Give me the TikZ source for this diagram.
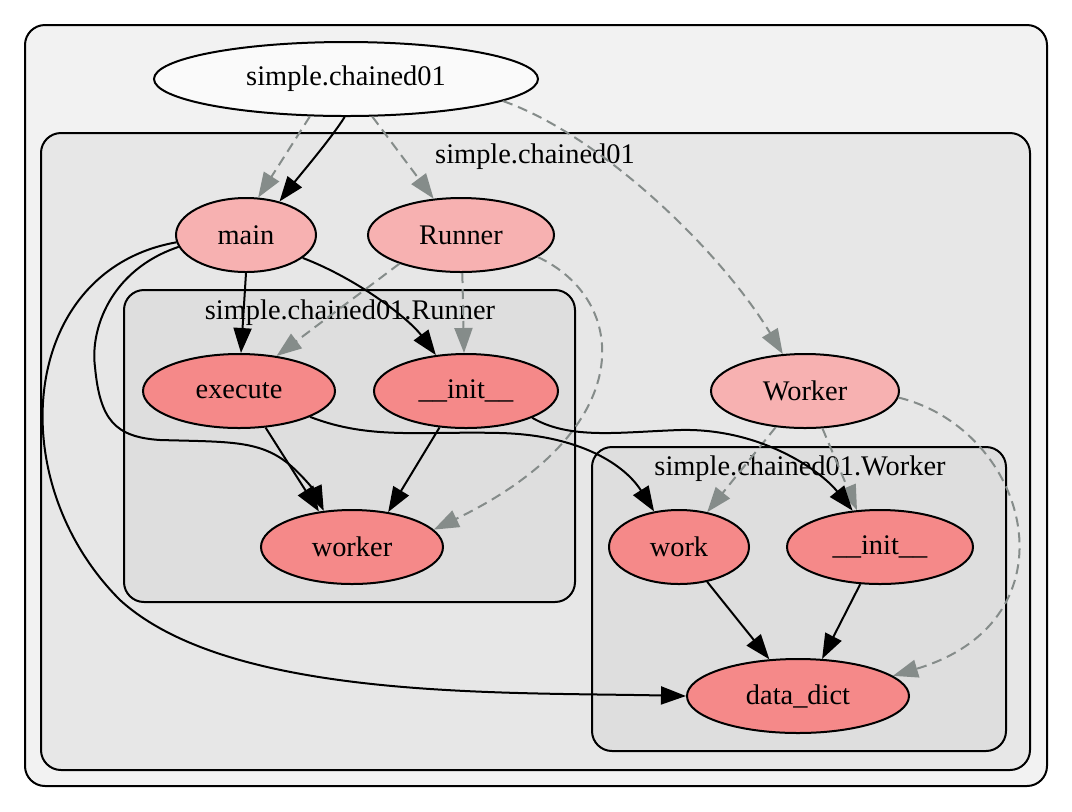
\documentclass[tikz,border=0pt]{standalone}
\usepackage{fontspec}
\setmainfont{Liberation Serif}
\usetikzlibrary{shapes.geometric,arrows.meta}
\definecolor{bgA}{HTML}{F2F2F2}
\definecolor{bgB}{HTML}{E7E7E7}
\definecolor{bgC}{HTML}{DEDEDE}
\definecolor{topfill}{HTML}{FAFAFA}
\definecolor{modfill}{HTML}{F7B1B1}
\definecolor{fnfill}{HTML}{F58989}
\definecolor{refgrey}{HTML}{858C8A}
\tikzset{
  every node/.style={font=\fontsize{14.2}{17}\selectfont},
  cluster/.style={draw=black, line width=1pt, rounded corners=10pt},
  fn/.style={ellipse, draw=black, line width=1pt, inner sep=0pt, minimum height=37pt},
  calls/.style={line width=1pt, draw=black, -{Triangle[length=12.5pt,width=9pt]}},
  defines/.style={line width=1pt, draw=refgrey, dash pattern=on 5pt off 3pt,
    -{Triangle[length=12.5pt,width=9pt,fill=refgrey]}},
  clabel/.style={inner sep=0pt}
}
\begin{document}
\begin{tikzpicture}[x=0.5pt,y=-0.5pt]
\useasboundingbox (0,0) rectangle (1072,811);
% package clusters
\draw[cluster, fill=bgA] (25,25) rectangle (1047,786);
\draw[cluster, fill=bgB] (41,133) rectangle (1030,770);
\draw[cluster, fill=bgC] (124,290) rectangle (575,602);
\draw[cluster, fill=bgC] (592,447) rectangle (1006,751);
\node[clabel] (lmod) at (535,157) {simple.chained01};
\node[clabel] (lrun) at (350,313) {simple.chained01.Runner};
\node[clabel] (lwrk) at (800,469) {simple.chained01.Worker};

% nodes
\node[fn, fill=topfill, minimum width=192pt] (top) at (346,79) {simple.chained01};
\node[fn, fill=modfill, minimum width=70pt] (main) at (246,235) {main};
\node[fn, fill=modfill, minimum width=93pt] (runner) at (461,235) {Runner};
\node[fn, fill=fnfill, minimum width=96pt] (exec) at (239,391) {execute};
\node[fn, fill=fnfill, minimum width=92pt] (initR) at (466,391) {\_\_init\_\_};
\node[fn, fill=fnfill, minimum width=91pt] (worker) at (352,547) {worker};
\node[fn, fill=modfill, minimum width=94pt] (Worker) at (805,391) {Worker};
\node[fn, fill=fnfill, minimum width=70pt] (work) at (679,547) {work};
\node[fn, fill=fnfill, minimum width=93pt] (initW) at (880,547) {\_\_init\_\_};
\node[fn, fill=fnfill, minimum width=111pt] (dd) at (798,696) {data\_dict};

% definition edges
\draw[defines] (top.-134) -- (main.72);
\draw[defines] (top.-55) -- (runner.127);
\draw[defines] (top.-8.4) .. controls (600,135) and (720,250) .. (Worker.121);
\draw[defines] (runner.205) -- (exec.43);
\draw[defines] (runner.-88) -- (initR.93);
\draw[defines] (runner.-16.6) .. controls (630,300) and (640,430) .. (worker.12);
\draw[defines] (Worker.-129) -- (work.51.5);
\draw[defines] (Worker.-65) -- (initW.122);
\draw[defines] (Worker.-4) .. controls (1030,430) and (1080,620) .. (dd.12.3);

% call edges
\draw[calls] (top.-92) .. controls (330,140) and (300,175) .. (main.45);
\draw[calls] (main.-90) -- (exec.87);
\draw[calls] (main.-22) .. controls (360,280) and (410,320) .. (initR.130);
\draw[calls] (main.190) .. controls (110,270) and (90,330) .. (95,367)
  .. controls (100,420) and (115,437) .. (160,440)
  .. controls (230,442) and (260,440) .. (290,465)
  .. controls (305,478) and (315,492) .. (worker.128);
\draw[calls] (main.186) .. controls (20,270) and (0,480) .. (120,600)
  .. controls (230,700) and (500,692) .. (dd.west);
\draw[calls] (exec.-54) -- (worker.133);
\draw[calls] (exec.-20) .. controls (370,440) and (420,431) .. (500,433)
  .. controls (580,435) and (625,465) .. (work.125);
\draw[calls] (initR.-126) -- (worker.44);
\draw[calls] (initR.-22) .. controls (570,440) and (620,432) .. (680,430)
  .. controls (760,428) and (820,470) .. (initW.127);
\draw[calls] (work.-51) -- (dd.128);
\draw[calls] (initW.-118) -- (dd.57);
\end{tikzpicture}
\end{document}
